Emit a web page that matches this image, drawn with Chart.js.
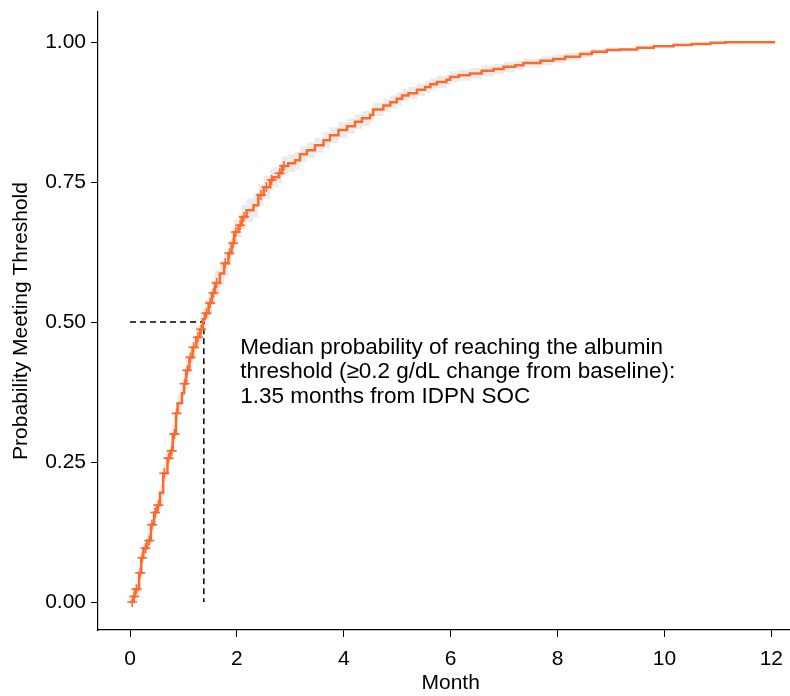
<!DOCTYPE html>
<html>
<head>
<meta charset="utf-8">
<script src="https://cdn.jsdelivr.net/npm/chart.js@4.4.1/dist/chart.umd.min.js"></script>
<style>
  html, body { margin: 0; padding: 0; width: 790px; height: 696px; overflow: hidden; background: #fff; }
  #wrap { width: 810px; height: 696px; }
  #kmChart { display: block; }
</style>
</head>
<body>
<div id="wrap"><canvas id="kmChart"></canvas></div>
<script>
// step curve: month at which the probability changes, and the new value
const months = [0.00, 0.06, 0.09, 0.17, 0.21, 0.25, 0.32, 0.39, 0.45, 0.51, 0.56, 0.62, 0.70, 0.75, 0.80,
    0.86, 0.89, 0.97, 1.01, 1.05, 1.11, 1.17, 1.24, 1.31, 1.36, 1.40, 1.47, 1.53, 1.59, 1.68, 1.76,
    1.84, 1.90, 1.95, 2.03, 2.09, 2.18, 2.31, 2.40, 2.50, 2.62, 2.68, 2.78, 2.84, 2.96, 3.09, 3.18,
    3.31, 3.46, 3.62, 3.74, 3.90, 4.06, 4.21, 4.34, 4.49, 4.55, 4.74, 4.87, 4.99, 5.09, 5.21, 5.37,
    5.52, 5.62, 5.74, 5.92, 5.99, 6.15, 6.36, 6.58, 6.80, 6.99, 7.21, 7.36, 7.68, 7.92, 8.14, 8.42,
    8.64, 8.92, 9.17, 9.49, 9.80, 10.17, 10.51, 10.86, 11.14, 12.07];
const prob = [0.000, 0.010, 0.023, 0.052, 0.079, 0.096, 0.110, 0.138, 0.160, 0.173, 0.195, 0.230, 0.257, 0.270, 0.300,
    0.337, 0.355, 0.373, 0.390, 0.414, 0.437, 0.455, 0.473, 0.487, 0.505, 0.516, 0.534, 0.552, 0.570, 0.587, 0.605,
    0.623, 0.641, 0.661, 0.673, 0.688, 0.700, 0.709, 0.727, 0.741, 0.754, 0.759, 0.766, 0.779, 0.784, 0.789, 0.800,
    0.807, 0.816, 0.825, 0.834, 0.843, 0.850, 0.858, 0.864, 0.870, 0.880, 0.887, 0.893, 0.899, 0.905, 0.909, 0.915,
    0.920, 0.925, 0.929, 0.933, 0.938, 0.941, 0.944, 0.949, 0.952, 0.956, 0.959, 0.963, 0.967, 0.970, 0.974, 0.979,
    0.983, 0.986, 0.987, 0.990, 0.993, 0.995, 0.997, 0.999, 1.000, 1.000];
const ciLow = [0.000, 0.000, 0.013, 0.042, 0.069, 0.086, 0.098, 0.126, 0.148, 0.159, 0.181, 0.215, 0.242, 0.254, 0.284,
    0.320, 0.338, 0.355, 0.372, 0.395, 0.418, 0.435, 0.452, 0.466, 0.484, 0.494, 0.512, 0.530, 0.548, 0.565, 0.583,
    0.601, 0.619, 0.639, 0.651, 0.666, 0.679, 0.688, 0.707, 0.721, 0.735, 0.741, 0.748, 0.762, 0.768, 0.774, 0.786,
    0.793, 0.802, 0.811, 0.820, 0.829, 0.836, 0.845, 0.851, 0.858, 0.868, 0.875, 0.881, 0.887, 0.894, 0.898, 0.904,
    0.909, 0.914, 0.918, 0.923, 0.928, 0.931, 0.934, 0.939, 0.943, 0.947, 0.951, 0.955, 0.959, 0.962, 0.967, 0.973,
    0.978, 0.982, 0.984, 0.987, 0.991, 0.993, 0.996, 0.998, 1.000, 1.000];
const ciHigh = [0.000, 0.020, 0.033, 0.062, 0.089, 0.106, 0.122, 0.150, 0.172, 0.187, 0.209, 0.245, 0.272, 0.286, 0.316,
    0.354, 0.372, 0.391, 0.408, 0.433, 0.456, 0.475, 0.494, 0.508, 0.526, 0.538, 0.556, 0.574, 0.592, 0.609, 0.627,
    0.645, 0.663, 0.683, 0.695, 0.710, 0.721, 0.730, 0.747, 0.761, 0.773, 0.777, 0.784, 0.796, 0.800, 0.804, 0.814,
    0.821, 0.830, 0.839, 0.848, 0.857, 0.864, 0.871, 0.877, 0.882, 0.892, 0.899, 0.905, 0.911, 0.916, 0.920, 0.926,
    0.931, 0.936, 0.940, 0.943, 0.948, 0.951, 0.954, 0.959, 0.961, 0.965, 0.967, 0.971, 0.975, 0.978, 0.981, 0.985,
    0.988, 0.990, 0.990, 0.993, 0.995, 0.997, 0.998, 1.000, 1.000, 1.000];

// censoring marks (+)
const censorMonths = [0.04, 0.08, 0.12, 0.19, 0.23, 0.29, 0.36, 0.41, 0.47, 0.53, 0.64, 0.72, 0.78, 0.83, 0.87,
    1.02, 1.07, 1.13, 1.19, 1.27, 1.33, 1.43, 1.50, 1.56, 1.62, 1.78, 1.86, 1.93, 1.98, 2.06, 2.13,
    2.45, 2.55, 2.65, 2.80, 2.88];
const censorProb = [0.000, 0.010, 0.023, 0.052, 0.079, 0.096, 0.110, 0.138, 0.160, 0.173, 0.230, 0.257, 0.270, 0.300, 0.337,
    0.390, 0.414, 0.437, 0.455, 0.473, 0.487, 0.516, 0.534, 0.552, 0.570, 0.605, 0.623, 0.641, 0.661, 0.673, 0.688,
    0.727, 0.741, 0.754, 0.766, 0.779];

const medianMonth = 1.38;
const medianProb = 0.5;
const xTicks = [0, 2, 4, 6, 8, 10, 12];
const yTicks = [0, 0.25, 0.5, 0.75, 1];
const noteLines = [
    'Median probability of reaching the albumin',
    'threshold (\u22650.2 g/dL change from baseline):',
    '1.35 months from IDPN SOC'
];
const noteMonth = 2.06;
const noteProb = 0.455;

const orange = '#FF6A2B';
const band = '#EBEBEB';
const fontFamily = "'Liberation Sans', Arial, Helvetica, sans-serif";

const toXY = (xs, ys) => xs.map((x, i) => ({ x: x, y: ys[i] }));

const notePlugin = {
    id: 'note',
    afterDatasetsDraw(chart) {
        const { ctx, scales } = chart;
        const x = scales.x.getPixelForValue(noteMonth);
        const y = scales.y.getPixelForValue(noteProb);
        ctx.save();
        ctx.font = '22.5px ' + fontFamily;
        ctx.fillStyle = '#000';
        ctx.textBaseline = 'middle';
        noteLines.forEach((line, i) => ctx.fillText(line, x, y + i * 24.5));
        ctx.restore();
    }
};

new Chart(document.getElementById('kmChart'), {
    type: 'line',
    data: {
        datasets: [
            {
                label: 'Censored',
                data: toXY(censorMonths, censorProb),
                showLine: false,
                pointStyle: 'cross',
                pointRadius: 5,
                pointBorderWidth: 1.6,
                pointBorderColor: orange,
                order: 0
            },
            {
                label: 'Probability',
                data: toXY(months, prob),
                stepped: true,
                borderColor: orange,
                borderWidth: 2.5,
                pointRadius: 0,
                order: 1
            },
            {
                label: 'Median',
                data: [{ x: 0, y: medianProb }, { x: medianMonth, y: medianProb }, { x: medianMonth, y: 0 }],
                borderColor: '#000',
                borderWidth: 1.5,
                borderDash: [6, 4],
                pointRadius: 0,
                order: 2
            },
            {
                label: 'Upper',
                data: toXY(months, ciHigh),
                stepped: true,
                borderWidth: 0,
                pointRadius: 0,
                backgroundColor: band,
                fill: '+1',
                order: 3
            },
            {
                label: 'Lower',
                data: toXY(months, ciLow),
                stepped: true,
                borderWidth: 0,
                pointRadius: 0,
                fill: false,
                order: 4
            }
        ]
    },
    options: {
        responsive: true,
        maintainAspectRatio: false,
        animation: false,
        layout: { padding: { top: 12, right: 0, left: 0, bottom: 0 } },
        plugins: {
            legend: { display: false },
            tooltip: { enabled: false }
        },
        scales: {
            x: {
                type: 'linear',
                min: -0.6,
                max: 12.6,
                afterBuildTicks: (scale) => { scale.ticks = xTicks.map(v => ({ value: v })); },
                afterFit: (scale) => { scale.height = 66; scale.paddingLeft = 0; scale.paddingRight = 0; },
                grid: { drawOnChartArea: false, drawTicks: true, tickLength: 7, color: '#000' },
                border: { display: true, color: '#000', width: 1.2 },
                ticks: { color: '#000', padding: 10, font: { family: fontFamily, size: 21 } },
                title: { display: true, text: 'Month', color: '#000', padding: { top: 0, bottom: 0 }, font: { family: fontFamily, size: 21 } }
            },
            y: {
                type: 'linear',
                min: -0.05,
                max: 1.054,
                afterBuildTicks: (scale) => { scale.ticks = yTicks.map(v => ({ value: v })); },
                afterFit: (scale) => { scale.width = 98; scale.paddingTop = 0; scale.paddingBottom = 0; },
                grid: { drawOnChartArea: false, drawTicks: true, tickLength: 7, color: '#000' },
                border: { display: true, color: '#000', width: 1.2 },
                ticks: { color: '#000', padding: 5, font: { family: fontFamily, size: 21 }, callback: (v) => Number(v).toFixed(2) },
                title: { display: true, text: 'Probability Meeting Threshold', color: '#000', padding: { top: 9, bottom: 0 }, font: { family: fontFamily, size: 21 } }
            }
        }
    },
    plugins: [notePlugin]
});
</script>
</body>
</html>
